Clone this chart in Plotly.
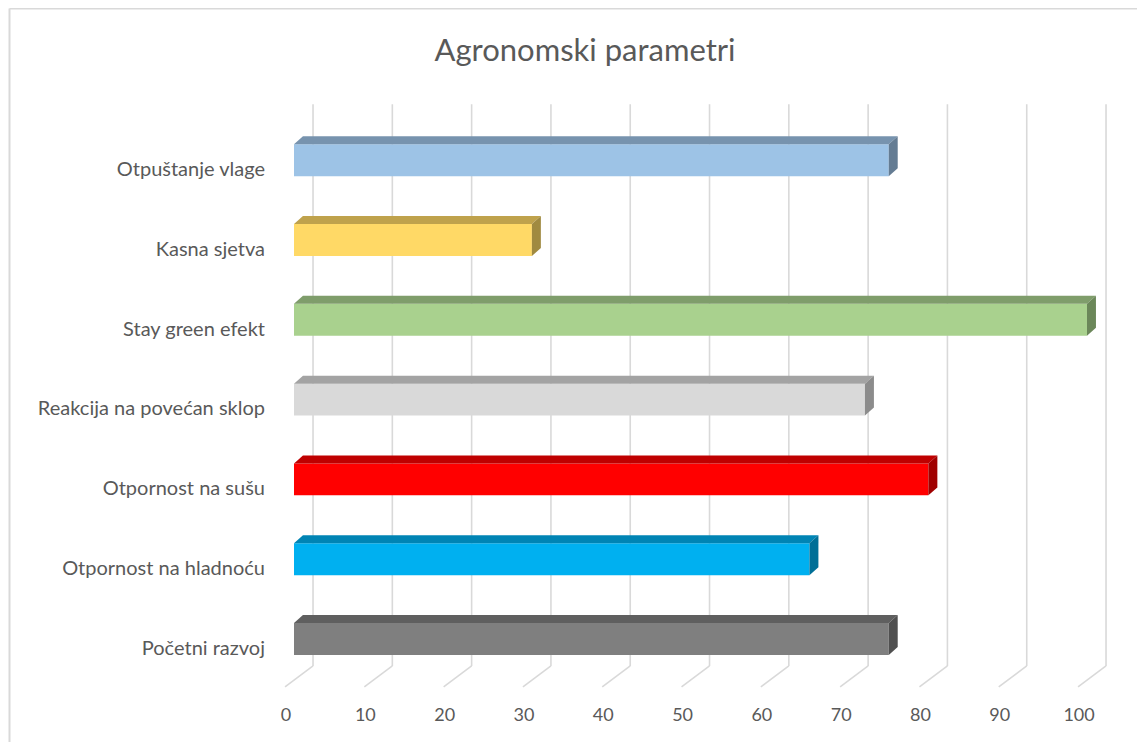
import plotly.graph_objects as go

# ---- data (top to bottom as shown) ----
categories = ["Otpuštanje vlage", "Kasna sjetva", "Stay green efekt",
              "Reakcija na povećan sklop", "Otpornost na sušu",
              "Otpornost na hladnoću", "Početni razvoj"]
values = [75, 30, 100, 72, 80, 65, 75]
front_colors = ["#9DC3E6", "#FFD966", "#A9D18E", "#D9D9D9", "#FF0000", "#00B0F0", "#7F7F7F"]
top_colors = ["#7793AE", "#BFA24C", "#7F9D6B", "#A3A3A3", "#BF0000", "#0084B4", "#5F5F5F"]
side_colors = ["#647C93", "#A08A40", "#6B8759", "#8C8C8C", "#A00000", "#006F97", "#505050"]
x_ticks = [0, 10, 20, 30, 40, 50, 60, 70, 80, 90, 100]

# ---- 3D look geometry (axis units) ----
BAR_W = 0.4
DEPTH_X = 1.13
DEPTH_Y = 0.10
WALL_DX = 2.4
FLOOR_DX = -1.13
WALL_BOTTOM = -0.338
FLOOR_Y = -0.60
WALL_TOP = 6.70
LABEL_DX = -1.0
LABEL_DY = -0.11

n = len(categories)
pos = [n - 1 - k for k in range(n)]

fig = go.Figure()

# back wall gridlines + floor diagonals (below the bars)
for t in x_ticks:
    fig.add_shape(type="line", xref="x", yref="y", layer="below",
                  x0=t + FLOOR_DX, y0=FLOOR_Y, x1=t + WALL_DX, y1=WALL_BOTTOM,
                  line=dict(color="#D9D9D9", width=1.6))
    fig.add_shape(type="line", xref="x", yref="y", layer="below",
                  x0=t + WALL_DX, y0=WALL_BOTTOM, x1=t + WALL_DX, y1=WALL_TOP,
                  line=dict(color="#D9D9D9", width=1.6))

# front faces
fig.add_trace(go.Bar(x=values, y=pos, orientation="h", width=BAR_W, base=0,
                     marker=dict(color=front_colors, line=dict(width=0)),
                     showlegend=False, hoverinfo="skip"))

# top and side faces
for v, p, tc, sc in zip(values, pos, top_colors, side_colors):
    yt = p + BAR_W / 2
    yb = p - BAR_W / 2
    fig.add_trace(go.Scatter(
        x=[0, v, v + DEPTH_X, DEPTH_X, 0],
        y=[yt, yt, yt + DEPTH_Y, yt + DEPTH_Y, yt],
        mode="lines", fill="toself", fillcolor=tc,
        line=dict(width=0, color=tc), hoverinfo="skip", showlegend=False))
    fig.add_trace(go.Scatter(
        x=[v, v + DEPTH_X, v + DEPTH_X, v, v],
        y=[yb, yb + DEPTH_Y, yt + DEPTH_Y, yt, yb],
        mode="lines", fill="toself", fillcolor=sc,
        line=dict(width=0, color=sc), hoverinfo="skip", showlegend=False))

# page has an 8px body margin; figure pixels = screen pixels - 8
OFF = 8
W, H = 1145 - OFF, 742 - OFF
L, T = 270 - OFF, 80 - OFF
R = W - (1125 - OFF)
B = H - (700 - OFF)
px_per_x = 7.93
px_per_y = 79.8
xa = (270 - 294) / px_per_x
xb = xa + (1125 - 270) / px_per_x
ya = (639 - 700) / px_per_y
yb_ = (639 - 80) / px_per_y

fig.update_layout(
    width=W, height=H,
    margin=dict(l=L, r=R, t=T, b=B),
    paper_bgcolor="white", plot_bgcolor="white",
    font=dict(family="Lato", size=18, color="#595959"),
    title=dict(text="Agronomski parametri", x=(585 - OFF) / W, xref="container",
               y=1 - (50 - OFF) / H, yref="container", xanchor="center", yanchor="middle",
               font=dict(family="Lato", size=31, color="#595959")),
    barmode="overlay",
    xaxis=dict(range=[xa, xb], showgrid=False, zeroline=False, showline=False,
               tickmode="array", tickvals=[t + LABEL_DX for t in x_ticks],
               ticktext=[str(t) for t in x_ticks], ticks="", fixedrange=True,
               tickfont=dict(size=18), ticklabelstandoff=2),
    yaxis=dict(range=[ya, yb_], showgrid=False, zeroline=False, showline=False,
               tickmode="array", tickvals=[p + LABEL_DY for p in pos],
               ticktext=categories, ticks="", fixedrange=True,
               tickfont=dict(size=20), ticklabelstandoff=4),
)

# chart border (left and top edges visible)
pw, ph = W - L - R, H - T - B
bx = (9.5 - OFF - L) / pw
by = (H - B - 0.5) / ph
fig.add_shape(type="line", xref="paper", yref="paper", x0=bx, x1=bx, y0=by, y1=-0.2,
              line=dict(color="#D9D9D9", width=2))
fig.add_shape(type="line", xref="paper", yref="paper", x0=bx, x1=1.2, y0=by, y1=by,
              line=dict(color="#D9D9D9", width=2))

fig.write_html("out.html")
